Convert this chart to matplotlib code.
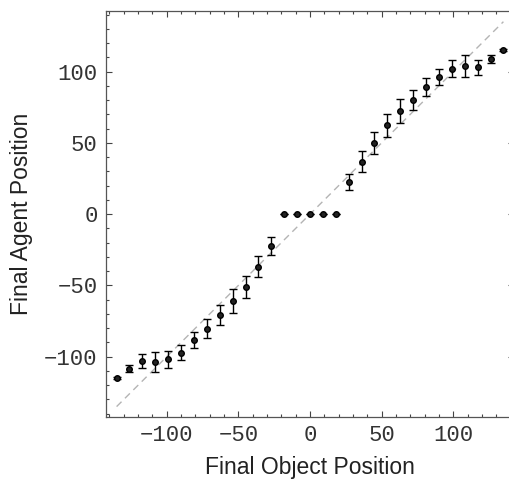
import matplotlib
matplotlib.use("Agg")
import matplotlib.pyplot as plt
import matplotlib.ticker as mtick

# final object position vs final agent position (mean +/- error)
obj_pos = [-135, -126, -117, -108, -99, -90, -81, -72, -63, -54, -45, -36, -27,
           -18, -9, 0, 9, 18,
           27, 36, 45, 54, 63, 72, 81, 90, 99, 108, 117, 126, 135]
agent_pos = [-115.2, -108.4, -103.0, -104.0, -101.9, -97.2, -88.6, -80.4, -71.0,
             -61.0, -51.2, -36.9, -22.4,
             0, 0, 0, 0, 0,
             22.4, 36.9, 49.8, 62.4, 72.4, 80.1, 89.2, 96.2, 102.0, 104.1, 103.0,
             108.6, 114.9]
agent_err = [0.7, 2.5, 4.8, 7.0, 5.8, 5.4, 5.6, 6.7, 7.0, 8.2, 7.7, 7.2, 6.2,
             0, 0, 0, 0, 0,
             5.7, 7.1, 7.9, 8.1, 8.2, 6.7, 6.0, 5.4, 6.1, 7.7, 5.1, 2.7, 0.7]
diag = [-135, 135]

plt.rcParams['lines.scale_dashes'] = False

fig = plt.figure(figsize=(5.10, 4.83), dpi=100)
ax = fig.add_axes([106 / 510, 66 / 483, 408 / 510, 406 / 483])

ax.plot(diag, diag, color='#b4b4b4', lw=1.0, dashes=(5, 3.5), zorder=1)
ax.errorbar(obj_pos, agent_pos, yerr=agent_err, fmt='o', color='black',
            mfc='#222222', mec='black', ms=4, elinewidth=1.0, capsize=3,
            capthick=1.0, zorder=3)

ax.set_xlim(-142.4, 142.4)
ax.set_ylim(-142.3, 142.5)

ax.xaxis.set_major_locator(mtick.MultipleLocator(50))
ax.xaxis.set_minor_locator(mtick.MultipleLocator(10))
ax.yaxis.set_major_locator(mtick.MultipleLocator(50))
ax.yaxis.set_minor_locator(mtick.MultipleLocator(10))
ax.tick_params(which='both', direction='in', top=True, right=True,
               color='#444444', width=0.8)
ax.tick_params(which='major', length=4, pad=6, labelsize=16,
               labelcolor='#333333')
ax.tick_params(which='minor', length=2.2)
for lab in ax.get_xticklabels() + ax.get_yticklabels():
    lab.set_family('Liberation Mono')
for s in ax.spines.values():
    s.set_color('#555555')
    s.set_linewidth(0.9)

ax.set_xlabel('Final Object Position', family='Liberation Sans', fontsize=16.5,
              color='#222222', labelpad=7)
ax.set_ylabel('Final Agent Position', family='Liberation Sans', fontsize=16.5,
              color='#222222', labelpad=8)

fig.savefig('out.png', dpi=100)
